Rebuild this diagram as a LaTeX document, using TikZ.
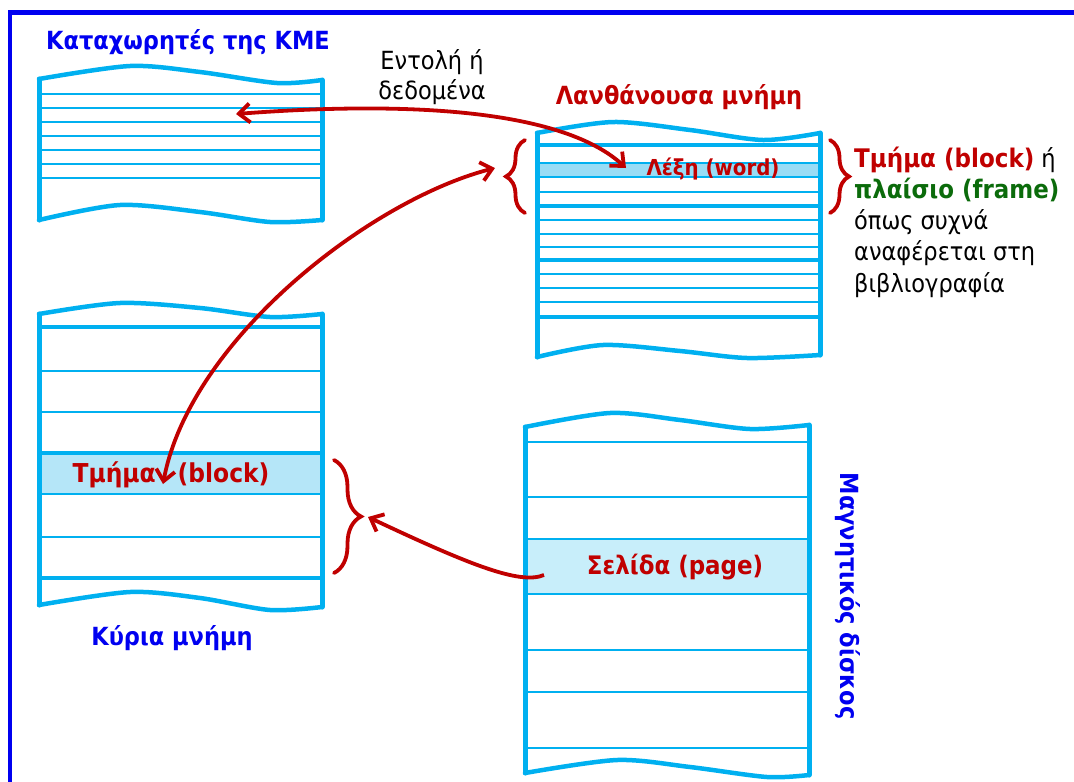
\documentclass[tikz,border=0pt]{standalone}
\usepackage{fontspec}
\setmainfont{DejaVu Sans}[FakeStretch=0.9]
\usetikzlibrary{arrows.meta,decorations.pathreplacing}
\definecolor{cy}{HTML}{00B0F0}
\definecolor{hlC}{HTML}{99DCF5}
\definecolor{hlM}{HTML}{B5E6F8}
\definecolor{hlD}{HTML}{C8EEFA}
\definecolor{myred}{HTML}{C00000}
\definecolor{mygreen}{HTML}{0B6B0B}
\definecolor{myblue}{HTML}{0000F0}
\begin{document}
\begin{tikzpicture}[x=1pt,y=-1pt,
  sideline/.style={cy,line width=5pt,line cap=round},
  thinline/.style={cy,line width=1.5pt},
  thickline/.style={cy,line width=4.5pt},
  waveline/.style={cy,line width=4.5pt,line cap=round},
  brc/.style={decorate,decoration={brace,amplitude=#1},draw=myred,line width=3.8pt,line cap=round},
  arr/.style={myred,line width=3.8pt,{Straight Barb[length=11pt,width=19pt]}-{Straight Barb[length=11pt,width=19pt]}},
  arrone/.style={myred,line width=3.8pt,-{Straight Barb[length=11pt,width=19pt]}},
  bluelab/.style={text=myblue,font=\bfseries\fontsize{25}{28}\selectfont,inner sep=0pt},
  redlab/.style={text=myred,font=\bfseries\fontsize{#1}{28}\selectfont,inner sep=0pt},
  blacklab/.style={text=black,font=\fontsize{25}{30}\selectfont,inner sep=0pt,align=center}
]
\useasboundingbox (0,0) rectangle (1074,782);
% frame
\draw[myblue,line width=4.5pt] (8,12.5) -- (1074,12.5);
\draw[myblue,line width=4.5pt] (10,10.5) -- (10,782);

% ---------- Registers ----------
\foreach \y in {94,108,122,136,150,164,178} \draw[thinline] (39,\y) -- (322,\y);
\draw[sideline] (39,79) -- (39,220);
\draw[sideline] (322,80) -- (322,220);
\draw[waveline] plot[smooth] coordinates {(39,79) (130,66) (200,72) (277,83) (322,80)};
\draw[waveline] plot[smooth] coordinates {(39,220) (120,205) (200,212) (270,222) (322,220)};
\node[bluelab] (regl) at (188,42) {Καταχωρητές της ΚΜΕ};

% ---------- Cache ----------
\fill[hlC] (537,163) rectangle (820,177);
\foreach \y in {163,177,192,220,234,247,274,288,302} \draw[thinline] (537,\y) -- (820,\y);
\foreach \y in {145,206,260,317} \draw[thickline] (537,\y) -- (820,\y);
\draw[sideline] (537,133) -- (537,357);
\draw[sideline] (820,133) -- (820,355);
\draw[waveline] plot[smooth] coordinates {(537,133) (613,122) (690,130) (763,140) (820,133)};
\draw[waveline] plot[smooth] coordinates {(537,357) (603,345) (680,351) (747,358) (820,355)};
\node[redlab=25] (cachel) at (679,97) {Λανθάνουσα μνήμη};
\node[redlab=22] (word) at (713,169) {Λέξη (word)};

% ---------- Main memory ----------
\fill[hlM] (39,453) rectangle (322,494);
\foreach \y in {371,412,494,537} \draw[thinline] (39,\y) -- (322,\y);
\foreach \y in {327,453,578} \draw[thickline] (39,\y) -- (322,\y);
\draw[sideline] (39,314) -- (39,605);
\draw[sideline] (322,314) -- (322,607);
\draw[waveline] plot[smooth] coordinates {(39,314) (120,303) (200,308) (270,317) (322,314)};
\draw[waveline] plot[smooth] coordinates {(39,605) (130,592) (200,598) (270,610) (322,607)};
\node[redlab=26] (blockl) at (171,475) {Τμήμα\hspace{22pt}(block)};
\node[bluelab] (mainl) at (172,638) {Κύρια μνήμη};

% ---------- Disk ----------
\fill[hlD] (525,539) rectangle (809,594);
\foreach \y in {442,497,539,594,650,692,748} \draw[thinline] (525,\y) -- (809,\y);
\draw[sideline] (525,427) -- (525,773);
\draw[sideline] (809,425) -- (809,775);
\draw[waveline] plot[smooth] coordinates {(525,427) (610,413) (680,420) (750,429) (809,425)};
\draw[waveline] plot[smooth] coordinates {(525,773) (617,760) (690,767) (767,777) (809,775)};
\node[redlab=25.5] (pagel) at (675,567) {Σελίδα (page)};
\node[bluelab,rotate=-90] (diskl) at (848,596) {Μαγνητικός δίσκος};

% ---------- side text ----------
\node[blacklab] (instr) at (432,77) {Εντολή ή\\δεδομένα};
\node[anchor=west,inner sep=0pt,align=left,font=\fontsize{25}{31.3}\selectfont] (frame) at (854,222)
  {\textcolor{myred}{\bfseries\fontsize{25.6}{31.3}\selectfont Τμήμα (block)} ή\\
   \textcolor{mygreen}{\bfseries\fontsize{25.5}{31.3}\selectfont πλαίσιο (frame)}\\
   όπως συχνά\\αναφέρεται στη\\βιβλιογραφία};

% ---------- braces ----------
\coordinate (cbl1) at (525,213);
\coordinate (cbl2) at (525,140);
\coordinate (cbr1) at (830,140);
\coordinate (cbr2) at (830,213);
\coordinate (mb1) at (334,460);
\coordinate (mb2) at (334,573);
\draw[brc=19pt] (cbl1) -- (cbl2);
\draw[brc=19pt] (cbr1) -- (cbr2);
\draw[brc=27pt] (mb1) -- (mb2);

% ---------- arrows ----------
\coordinate (regtip) at (236,114);
\coordinate (wordtip) at (626,168);
\coordinate (blocktip) at (163,484);
\coordinate (cachetip) at (495,168);
\coordinate (pagestart) at (544,575);
\coordinate (memtip) at (368,517);
\draw[arr] (regtip) .. controls (420,100) and (565,112) .. (wordtip);
\draw[arr] (blocktip) .. controls (190,340) and (370,200) .. (cachetip);
\draw[arrone] (pagestart) .. controls (520,585) and (470,565) .. (memtip);
\end{tikzpicture}
\end{document}
